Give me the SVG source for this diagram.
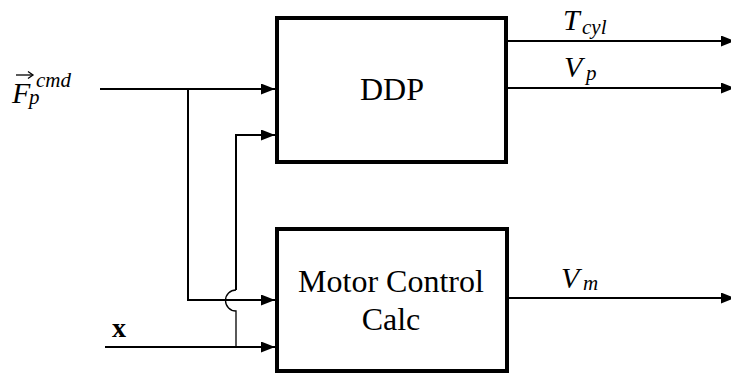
<svg xmlns="http://www.w3.org/2000/svg" width="731" height="375" viewBox="0 0 731 375">
<style>
.box{fill:#fff;stroke:#000;stroke-width:4}
.ln{fill:none;stroke:#000;stroke-width:2}
.thin{fill:none;stroke:#000;stroke-width:1.3}
.t{font-family:'Times New Roman','Liberation Serif','DejaVu Serif',serif}
</style>
<defs>
<marker id="ah" markerWidth="14" markerHeight="11" refX="14" refY="5.5" orient="auto" markerUnits="userSpaceOnUse">
<path d="M0,0 L14,5.5 L0,11 Z" fill="#000"/>
</marker>
</defs>
<g id="connectors">
<path class="ln" d="M100,89 H275" marker-end="url(#ah)"/>
<path class="ln" d="M188,89 V300 H275" marker-end="url(#ah)"/>
<path class="ln" d="M105,347 H275" marker-end="url(#ah)"/>
<path class="thin" d="M236,347 V311 A10.5,10.5 0 0 1 236,290"/>
<path class="ln" d="M236,290 V135 H275" marker-end="url(#ah)"/>
<path class="ln" d="M507,41 H735" marker-end="url(#ah)"/>
<path class="ln" d="M507,88 H735" marker-end="url(#ah)"/>
<path class="ln" d="M507,298 H735" marker-end="url(#ah)"/>
</g>
<g id="ddp">
<rect class="box" x="277" y="18" width="229" height="144"/>
<text class="t" x="392" y="100" text-anchor="middle" font-size="32">DDP</text>
</g>
<g id="motor">
<rect class="box" x="277" y="229" width="230" height="142"/>
<text class="t" x="391" y="292" text-anchor="middle" font-size="32">Motor Control</text>
<text class="t" x="391" y="330" text-anchor="middle" font-size="32">Calc</text>
</g>
<g id="labels" class="t" font-style="italic">
<text x="12" y="103" font-size="30">F</text>
<text x="29" y="104" font-size="21">p</text>
<text x="36" y="87" font-size="21">cmd</text>
<path d="M16,75 H32" stroke="#000" stroke-width="1.3" fill="none"/>
<path d="M28,71.5 L33,75 L28,78.5" stroke="#000" stroke-width="1.3" fill="none"/>
<text x="112" y="337" font-weight="bold" font-style="normal" font-size="28">x</text>
<text x="563" y="30" font-size="30">T</text>
<text x="582" y="34" font-size="21">cyl</text>
<text x="564" y="77" font-size="30">V</text>
<text x="586" y="80" font-size="21">p</text>
<text x="561" y="288" font-size="30">V</text>
<text x="583" y="290" font-size="21">m</text>
</g>
</svg>
